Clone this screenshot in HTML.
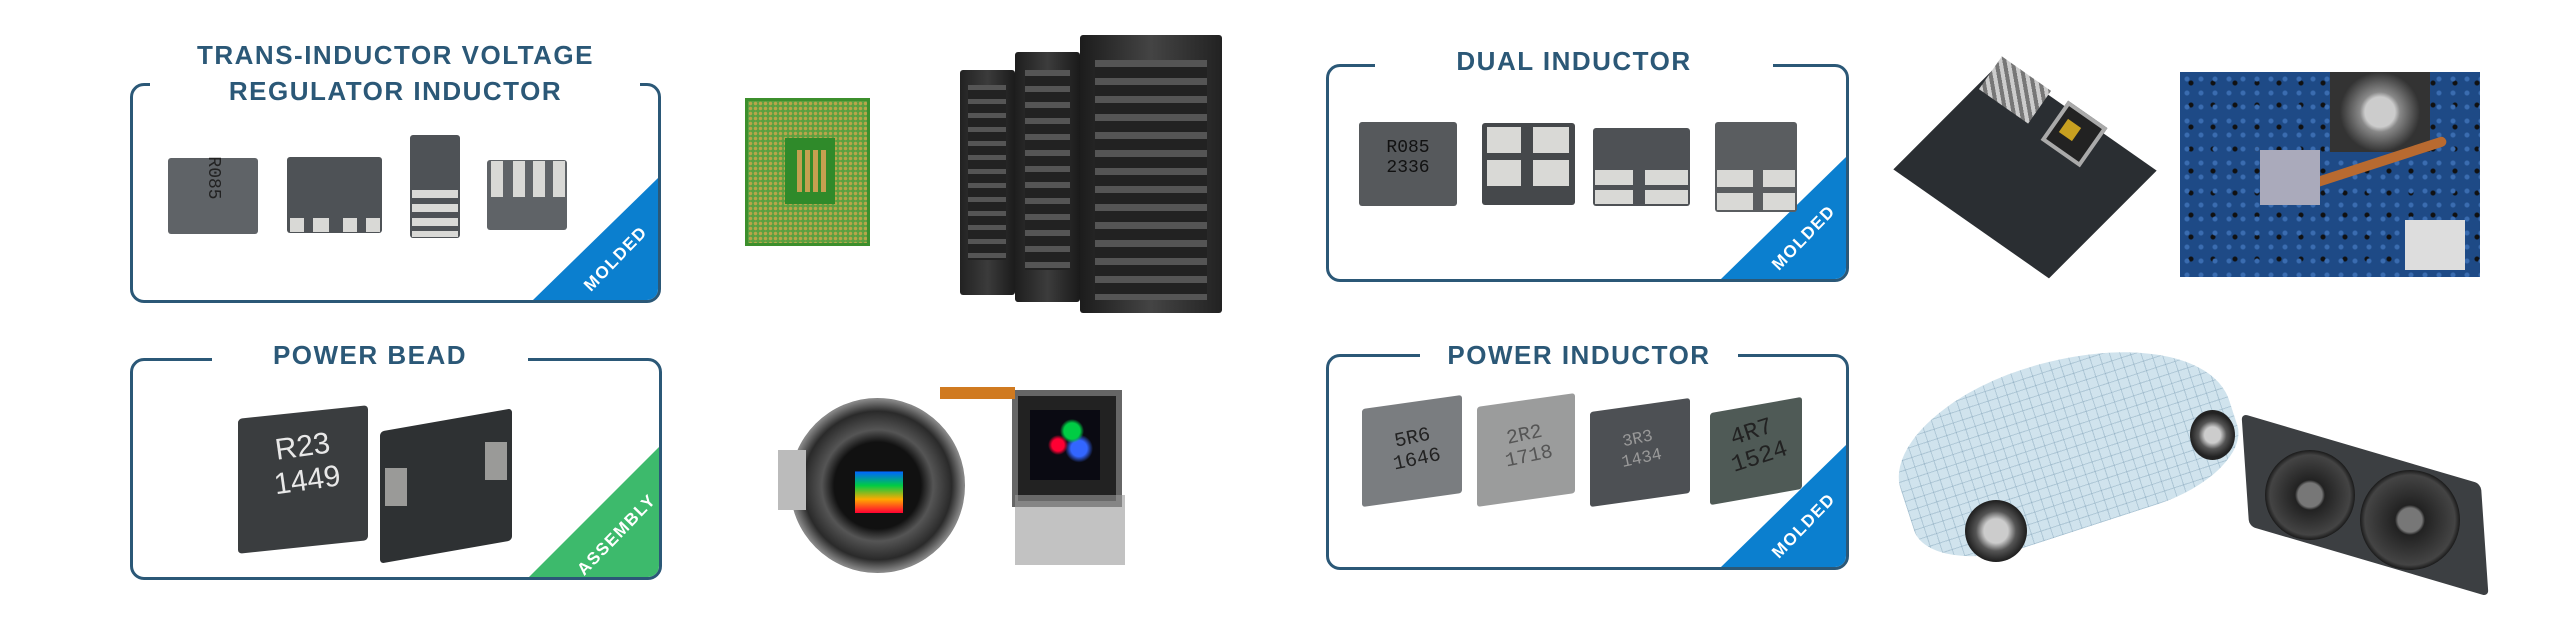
<!DOCTYPE html>
<html><head><meta charset="utf-8"><style>
body{margin:0;width:2560px;height:626px;background:#fff;position:relative;overflow:hidden;font-family:"Liberation Sans",sans-serif}
.a{position:absolute}
.box{position:absolute;border:3px solid #2b5877;border-radius:14px;box-sizing:border-box;overflow:hidden}
.gap{position:absolute;background:#fff;height:8px}
.t{position:absolute;color:#2b5877;font-weight:bold;font-size:26px;letter-spacing:1.5px;text-align:center;white-space:nowrap}
.tag{position:absolute;right:0;bottom:0;width:125px;height:122px;clip-path:polygon(100% 0,100% 100%,0 100%)}
.tag span{position:absolute;left:33px;top:71px;width:100px;text-align:center;color:#fff;font-weight:bold;font-size:17px;letter-spacing:1.5px;transform:rotate(-46deg);white-space:nowrap;line-height:20px}
.c{position:absolute;background:#55595e;border-radius:3px}
.pad{position:absolute;background:#d9d9d6}
.mk{position:absolute;color:#222;font-family:"Liberation Mono",monospace;font-size:18px;text-align:center;line-height:20px}
</style></head><body>

<!-- Box 1 -->
<div class="box" style="left:130px;top:83px;width:531px;height:220px">
<div class="tag" style="background:#0b7fcf"><span>MOLDED</span></div></div>
<div class="gap" style="left:150px;top:80px;width:490px"></div>
<div class="t" style="left:130px;top:40px;width:531px">TRANS-INDUCTOR VOLTAGE</div>
<div class="t" style="left:130px;top:76px;width:531px">REGULATOR INDUCTOR</div>
<div class="c" style="left:168px;top:158px;width:90px;height:76px;background:#5f6367"></div>
<div class="mk" style="left:168px;top:168px;width:90px;transform:rotate(90deg)">R085</div>
<div class="c" style="left:287px;top:157px;width:95px;height:76px;background:#4e5256"></div>
<div class="pad" style="left:290px;top:218px;width:14px;height:14px"></div><div class="pad" style="left:313px;top:218px;width:16px;height:14px"></div><div class="pad" style="left:343px;top:218px;width:14px;height:14px"></div><div class="pad" style="left:366px;top:218px;width:14px;height:14px"></div>
<div class="c" style="left:410px;top:135px;width:50px;height:103px;background:#4e5256"></div>
<div class="pad" style="left:412px;top:190px;width:46px;height:8px"></div><div class="pad" style="left:412px;top:204px;width:46px;height:8px"></div><div class="pad" style="left:412px;top:218px;width:46px;height:8px"></div><div class="pad" style="left:412px;top:231px;width:46px;height:6px"></div>
<div class="c" style="left:487px;top:160px;width:80px;height:70px;background:#5f6367"></div>
<div class="pad" style="left:491px;top:161px;width:12px;height:36px"></div><div class="pad" style="left:513px;top:161px;width:12px;height:36px"></div><div class="pad" style="left:533px;top:161px;width:12px;height:36px"></div><div class="pad" style="left:553px;top:161px;width:12px;height:36px"></div>

<!-- CPU -->
<div class="a" style="left:745px;top:98px;width:125px;height:148px;border:3px solid #3c8f2c;box-sizing:border-box;background-image:radial-gradient(circle,#b9a54a 1.5px,transparent 2px);background-size:5px 5px;background-color:#5aa040"></div>
<div class="a" style="left:785px;top:138px;width:50px;height:66px;background:#2f8a2a"></div>
<div class="a" style="left:797px;top:150px;width:30px;height:42px;background:repeating-linear-gradient(90deg,#c4a050 0 5px,#2f8a2a 5px 8px)"></div>

<!-- Servers -->
<div class="a" style="left:960px;top:70px;width:55px;height:225px;background:linear-gradient(90deg,#222,#3b3b3b,#1b1b1b);border-radius:3px"></div>
<div class="a" style="left:1015px;top:52px;width:65px;height:250px;background:linear-gradient(90deg,#1e1e1e,#3c3c3c,#1a1a1a);border-radius:3px"></div>
<div class="a" style="left:1080px;top:35px;width:142px;height:278px;background:linear-gradient(90deg,#1c1c1c,#444,#222);border-radius:3px"></div>
<div class="a" style="left:1095px;top:60px;width:112px;height:240px;background:repeating-linear-gradient(180deg,#555 0 7px,#222 7px 18px)"></div>
<div class="a" style="left:1025px;top:70px;width:45px;height:200px;background:repeating-linear-gradient(180deg,#555 0 6px,#222 6px 16px)"></div>
<div class="a" style="left:968px;top:85px;width:38px;height:175px;background:repeating-linear-gradient(180deg,#555 0 5px,#222 5px 14px)"></div>

<!-- Box 2 -->
<div class="box" style="left:130px;top:358px;width:532px;height:222px">
<div class="tag" style="background:#3dba6c;width:130px;height:130px"><span style="left:28px;top:78px;width:120px">ASSEMBLY</span></div></div>
<div class="gap" style="left:212px;top:354px;width:316px"></div>
<div class="t" style="left:212px;top:340px;width:316px">POWER BEAD</div>
<div class="a" style="left:238px;top:412px;width:130px;height:135px;background:#3a3d3f;transform:skewY(-6deg);border-radius:4px"></div>
<div class="mk" style="left:250px;top:430px;width:110px;color:#e8e8e8;font-size:30px;line-height:34px;font-family:'Liberation Sans',sans-serif;transform:rotate(-8deg)">R23<br>1449</div>
<div class="a" style="left:380px;top:420px;width:132px;height:132px;background:#2e3133;transform:skewY(-10deg);border-radius:4px"></div>
<div class="pad" style="left:385px;top:468px;width:22px;height:38px;background:#9a9a98"></div>
<div class="pad" style="left:485px;top:442px;width:22px;height:38px;background:#9a9a98"></div>

<!-- Camera -->
<div class="a" style="left:790px;top:398px;width:175px;height:175px;border-radius:50%;background:radial-gradient(circle,#111 35%,#555 45%,#2a2a2a 60%,#888 70%,#333 78%)"></div>
<div class="a" style="left:855px;top:458px;width:48px;height:55px;background:linear-gradient(0deg,#f03 0,#fa0 25%,#0c4 50%,#06f 75%,#111 76%)"></div>
<div class="a" style="left:778px;top:450px;width:28px;height:60px;background:#bbb"></div>
<div class="a" style="left:1012px;top:390px;width:98px;height:105px;background:#222;border:6px solid #666"></div>
<div class="a" style="left:1030px;top:410px;width:70px;height:70px;background:radial-gradient(circle at 40% 50%,#f03 6px,transparent 10px),radial-gradient(circle at 60% 30%,#0c4 8px,transparent 12px),radial-gradient(circle at 70% 55%,#36f 8px,transparent 14px),#0a0a12"></div>
<div class="a" style="left:940px;top:387px;width:75px;height:12px;background:#d07a20"></div>
<div class="a" style="left:1015px;top:495px;width:110px;height:70px;background:#999;opacity:.6"></div>

<!-- Box 3 -->
<div class="box" style="left:1326px;top:64px;width:523px;height:218px">
<div class="tag" style="background:#0b7fcf"><span>MOLDED</span></div></div>
<div class="gap" style="left:1375px;top:60px;width:398px"></div>
<div class="t" style="left:1375px;top:46px;width:398px">DUAL INDUCTOR</div>
<div class="c" style="left:1359px;top:122px;width:98px;height:84px;background:#56595c"></div>
<div class="mk" style="left:1359px;top:138px;width:98px;color:#111">R085<br>2336</div>
<div class="c" style="left:1482px;top:123px;width:93px;height:82px;background:#45484b"></div>
<div class="pad" style="left:1487px;top:127px;width:34px;height:26px"></div><div class="pad" style="left:1533px;top:127px;width:36px;height:26px"></div><div class="pad" style="left:1487px;top:160px;width:34px;height:26px"></div><div class="pad" style="left:1533px;top:160px;width:36px;height:26px"></div>
<div class="c" style="left:1593px;top:128px;width:97px;height:78px;background:#4e5155"></div>
<div class="pad" style="left:1595px;top:170px;width:38px;height:15px"></div><div class="pad" style="left:1645px;top:170px;width:43px;height:15px"></div><div class="pad" style="left:1595px;top:190px;width:38px;height:14px"></div><div class="pad" style="left:1645px;top:190px;width:43px;height:14px"></div>
<div class="c" style="left:1715px;top:122px;width:82px;height:90px;background:#5a5d60"></div>
<div class="pad" style="left:1717px;top:170px;width:36px;height:17px"></div><div class="pad" style="left:1763px;top:170px;width:32px;height:17px"></div><div class="pad" style="left:1717px;top:193px;width:36px;height:17px"></div><div class="pad" style="left:1763px;top:193px;width:32px;height:17px"></div>

<!-- Motherboards -->
<div class="a" style="left:1930px;top:95px;width:190px;height:150px;background:#2a2e32;transform:rotate(35deg) skewX(-10deg)"></div>
<div class="a" style="left:2050px;top:110px;width:40px;height:40px;background:#222;border:4px solid #aaa;transform:rotate(35deg)"></div>
<div class="a" style="left:2062px;top:122px;width:16px;height:16px;background:#c8a020;transform:rotate(35deg)"></div>
<div class="a" style="left:1985px;top:70px;width:60px;height:40px;background:repeating-linear-gradient(45deg,#ccc 0 4px,#777 4px 8px);transform:rotate(35deg)"></div>
<div class="a" style="left:2180px;top:72px;width:300px;height:205px;background:#1e4a86;background-image:radial-gradient(circle,#3a6cb0 2px,transparent 3px),radial-gradient(circle,#111 2px,transparent 3px);background-size:14px 14px,22px 22px"></div>
<div class="a" style="left:2330px;top:72px;width:100px;height:80px;background:radial-gradient(circle,#ccc 15px,#888 20px,#333 40px)"></div>
<div class="a" style="left:2290px;top:160px;width:160px;height:10px;background:#b86a30;border-radius:5px;transform:rotate(-18deg)"></div>
<div class="a" style="left:2260px;top:150px;width:60px;height:55px;background:#aab"></div>
<div class="a" style="left:2405px;top:220px;width:60px;height:50px;background:#ddd"></div>

<!-- Box 4 -->
<div class="box" style="left:1326px;top:354px;width:523px;height:216px">
<div class="tag" style="background:#0b7fcf"><span>MOLDED</span></div></div>
<div class="gap" style="left:1420px;top:350px;width:318px"></div>
<div class="t" style="left:1420px;top:340px;width:318px">POWER INDUCTOR</div>
<div class="c" style="left:1362px;top:402px;width:100px;height:98px;background:#7a7d80;transform:skewY(-8deg)"></div>
<div class="mk" style="left:1370px;top:428px;width:90px;font-size:20px;line-height:22px;transform:rotate(-12deg)">5R6<br>1646</div>
<div class="c" style="left:1477px;top:400px;width:98px;height:100px;background:#9b9c9c;transform:skewY(-8deg)"></div>
<div class="mk" style="left:1482px;top:425px;width:90px;font-size:20px;line-height:22px;color:#555;transform:rotate(-12deg)">2R2<br>1718</div>
<div class="c" style="left:1590px;top:405px;width:100px;height:95px;background:#4d5054;transform:skewY(-8deg)"></div>
<div class="mk" style="left:1594px;top:430px;width:92px;font-size:17px;color:#999;transform:rotate(-12deg)">3R3<br>1434</div>
<div class="c" style="left:1710px;top:405px;width:92px;height:92px;background:#4f5a56;transform:skewY(-10deg)"></div>
<div class="mk" style="left:1712px;top:420px;width:88px;font-size:24px;line-height:26px;transform:rotate(-18deg)">4R7<br>1524</div>

<!-- Car -->
<div class="a" style="left:1895px;top:360px;width:340px;height:170px;border-radius:45% 55% 30% 30%;transform:rotate(-18deg);opacity:.85;background-image:repeating-linear-gradient(90deg,rgba(90,130,160,.35) 0 1px,transparent 1px 10px),repeating-linear-gradient(0deg,rgba(90,130,160,.35) 0 1px,transparent 1px 10px);background-color:#c8dfea"></div>
<div class="a" style="left:1965px;top:500px;width:62px;height:62px;border-radius:50%;background:radial-gradient(circle,#ccc 12px,#555 20px,#222 30px)"></div>
<div class="a" style="left:2190px;top:410px;width:45px;height:50px;border-radius:50%;background:radial-gradient(circle,#ccc 8px,#555 14px,#222 22px)"></div>

<!-- GPU -->
<div class="a" style="left:2245px;top:450px;width:240px;height:110px;background:#3c3f42;transform:skewY(20deg) rotate(-4deg);border-radius:6px"></div>
<div class="a" style="left:2265px;top:450px;width:90px;height:90px;border-radius:50%;background:radial-gradient(circle,#777 12px,#222 15px,#444 40px,#1a1a1a 45px)"></div>
<div class="a" style="left:2360px;top:470px;width:100px;height:100px;border-radius:50%;background:radial-gradient(circle,#777 12px,#222 15px,#444 45px,#1a1a1a 50px)"></div>

</body></html>
